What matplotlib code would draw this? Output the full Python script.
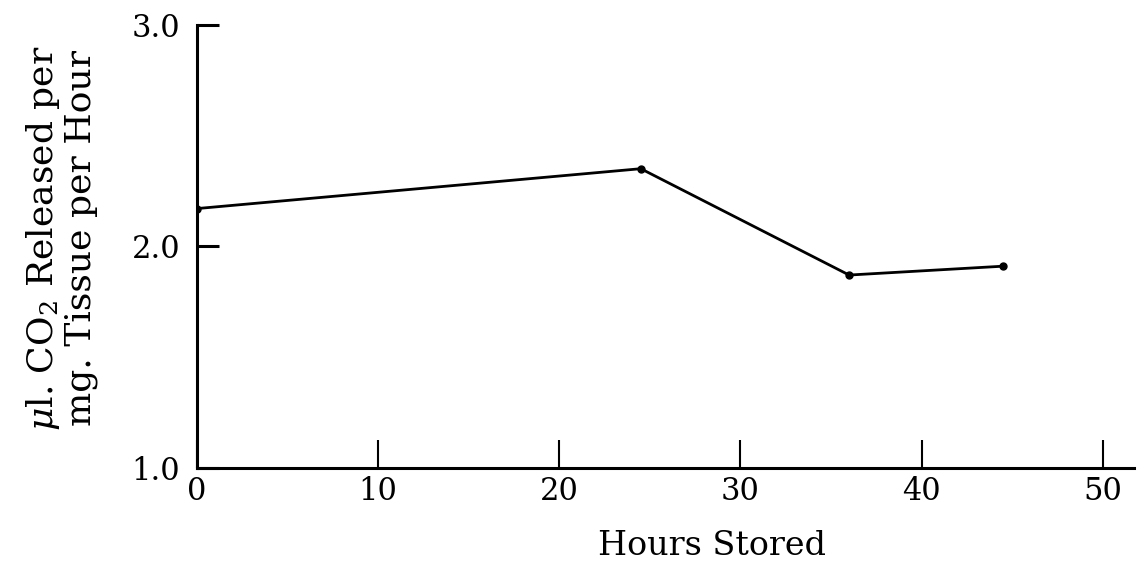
import matplotlib
matplotlib.use("Agg")
import matplotlib.pyplot as plt

# data
hours = [0, 24.5, 36, 44.5]
co2_rate = [2.17, 2.35, 1.87, 1.91]

x_ticks = [0, 10, 20, 30, 40, 50]
y_ticks = [1.0, 2.0, 3.0]
y_ticklabels = ["1.0", "2.0", "3.0"]

plt.rcParams["font.family"] = ["DejaVu Serif"]
plt.rcParams["mathtext.fontset"] = "dejavuserif"

fig = plt.figure(figsize=(11.45, 5.74), dpi=100)
ax = fig.add_axes([0.172, 0.185, 0.818, 0.772])

ax.plot(hours, co2_rate, color="black", lw=2.0, marker="o", ms=5)

ax.set_xlim(0, 51.7)
ax.set_ylim(1.0, 3.0)
ax.set_xticks(x_ticks)
ax.set_yticks(y_ticks)
ax.set_yticklabels(y_ticklabels)

for side in ["top", "right"]:
    ax.spines[side].set_visible(False)
for side in ["left", "bottom"]:
    ax.spines[side].set_linewidth(2.2)

ax.tick_params(axis="x", direction="in", length=20, width=1.5, labelsize=22, pad=6)
ax.tick_params(axis="y", direction="in", length=16, width=2.2, labelsize=22, pad=12)

ax.set_xlabel("Hours Stored", fontsize=24)
ax.xaxis.set_label_coords(0.55, -0.14)

# two-line y label, placed in figure coordinates
fig.text(0.053, 0.585, "$\\mu$l. CO$_2$ Released per\nmg. Tissue per Hour",
         rotation=90, ha="center", va="center", fontsize=26, linespacing=1.05)

fig.savefig("out.png", dpi=100)
